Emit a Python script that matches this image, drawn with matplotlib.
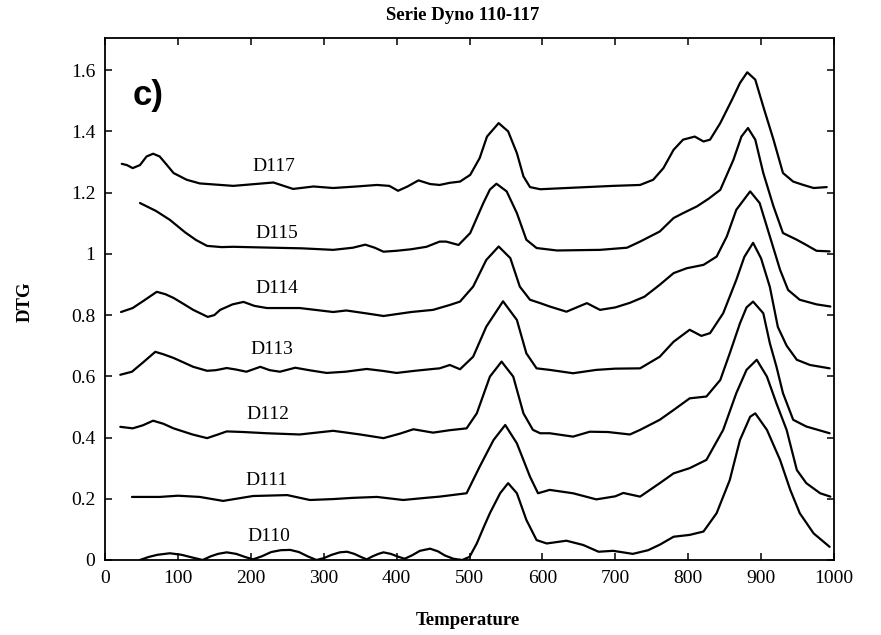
import matplotlib
matplotlib.use("Agg")
import matplotlib.pyplot as plt

# DTG curves (temperature, DTG)
t_d117 = [23, 30, 38, 48, 57, 66, 75, 85, 94, 112, 130, 176, 231, 258, 286, 313, 345, 373, 390, 402,
          415, 430, 446, 459, 473, 487, 501, 514, 524, 540, 553, 565, 574, 583, 597, 642, 697, 734, 752,
          766, 780, 793, 809, 821, 830, 844, 860, 871, 881, 892, 903, 917, 930, 944, 958, 972, 990]
y_d117 = [1.294, 1.29, 1.28, 1.29, 1.318, 1.327, 1.318, 1.29, 1.264, 1.242, 1.23, 1.222, 1.233, 1.212, 1.22,
          1.215, 1.22, 1.225, 1.222, 1.206, 1.22, 1.24, 1.228, 1.225, 1.232, 1.236, 1.258, 1.313, 1.383,
          1.427, 1.40, 1.329, 1.253, 1.218, 1.211, 1.216, 1.222, 1.225, 1.242, 1.28, 1.34, 1.373, 1.383,
          1.367, 1.373, 1.427, 1.503, 1.558, 1.593, 1.569, 1.481, 1.373, 1.264, 1.236, 1.225, 1.215, 1.218]

t_d115 = [48, 70, 89, 110, 125, 140, 160, 176, 231, 270, 313, 340, 357, 370, 382, 400, 420, 441, 459, 468,
          485, 501, 519, 528, 537, 551, 565, 578, 592, 620, 679, 716, 734, 761, 780, 793, 812, 828, 844,
          862, 873, 882, 892, 903, 917, 930, 949, 962, 976, 994]
y_d115 = [1.166, 1.14, 1.111, 1.07, 1.045, 1.026, 1.022, 1.023, 1.02, 1.018, 1.013, 1.02, 1.03, 1.02, 1.007,
          1.01, 1.015, 1.023, 1.04, 1.04, 1.029, 1.068, 1.166, 1.21, 1.229, 1.204, 1.133, 1.046, 1.019,
          1.011, 1.013, 1.02, 1.04, 1.073, 1.117, 1.133, 1.155, 1.18, 1.209, 1.307, 1.383, 1.411, 1.373,
          1.264, 1.155, 1.068, 1.046, 1.029, 1.010, 1.008]

t_d114 = [22, 38, 55, 71, 83, 94, 108, 121, 141, 150, 158, 175, 190, 205, 222, 267, 313, 331, 360, 382,
          420, 450, 473, 487, 505, 523, 540, 556, 569, 583, 597, 610, 633, 661, 679, 700, 720, 740, 761,
          780, 798, 821, 839, 853, 866, 885, 898, 912, 926, 937, 953, 976, 995]
y_d114 = [0.81, 0.823, 0.85, 0.876, 0.868, 0.856, 0.836, 0.817, 0.794, 0.80, 0.817, 0.835, 0.843, 0.83, 0.823,
          0.823, 0.81, 0.815, 0.805, 0.797, 0.81, 0.817, 0.833, 0.844, 0.893, 0.980, 1.024, 0.986, 0.893,
          0.850, 0.839, 0.828, 0.811, 0.839, 0.817, 0.825, 0.84, 0.86, 0.899, 0.937, 0.953, 0.964, 0.991,
          1.057, 1.144, 1.204, 1.166, 1.057, 0.948, 0.882, 0.85, 0.835, 0.828]

t_d113 = [21, 37, 52, 69, 80, 94, 108, 121, 140, 152, 167, 180, 194, 213, 226, 240, 261, 280, 304, 330,
          359, 380, 400, 425, 450, 459, 473, 487, 505, 523, 546, 565, 578, 592, 610, 642, 674, 700, 734,
          761, 780, 802, 818, 830, 848, 866, 877, 889, 900, 912, 923, 935, 949, 967, 994]
y_d113 = [0.605, 0.615, 0.645, 0.68, 0.672, 0.66, 0.645, 0.631, 0.618, 0.62, 0.627, 0.622, 0.615, 0.631, 0.62,
          0.615, 0.628, 0.62, 0.611, 0.615, 0.624, 0.618, 0.611, 0.618, 0.624, 0.626, 0.637, 0.623, 0.664,
          0.762, 0.845, 0.784, 0.675, 0.626, 0.621, 0.610, 0.621, 0.625, 0.626, 0.664, 0.713, 0.752, 0.732,
          0.741, 0.806, 0.915, 0.99, 1.036, 0.985, 0.892, 0.761, 0.70, 0.654, 0.637, 0.626]

t_d112 = [21, 38, 52, 66, 80, 94, 120, 140, 155, 167, 190, 222, 267, 313, 350, 382, 405, 423, 450, 473,
          496, 510, 528, 544, 560, 574, 587, 597, 610, 642, 665, 690, 720, 734, 761, 780, 802, 825, 844,
          857, 871, 880, 889, 903, 912, 921, 930, 944, 962, 994]
y_d112 = [0.435, 0.43, 0.44, 0.455, 0.445, 0.43, 0.41, 0.398, 0.41, 0.42, 0.418, 0.414, 0.41, 0.422, 0.41,
          0.398, 0.413, 0.427, 0.416, 0.424, 0.430, 0.479, 0.599, 0.648, 0.599, 0.479, 0.425, 0.414, 0.414,
          0.403, 0.419, 0.418, 0.41, 0.425, 0.458, 0.49, 0.528, 0.534, 0.588, 0.675, 0.773, 0.825, 0.844,
          0.806, 0.708, 0.632, 0.545, 0.458, 0.436, 0.414]

t_d111 = [37, 75, 100, 130, 162, 180, 203, 250, 281, 313, 340, 373, 409, 440, 459, 496, 514, 533, 549, 565,
          583, 594, 610, 642, 674, 700, 711, 734, 761, 780, 802, 825, 848, 866, 880, 894, 908, 921, 935,
          949, 962, 981, 995]
y_d111 = [0.206, 0.206, 0.21, 0.206, 0.193, 0.2, 0.209, 0.212, 0.196, 0.199, 0.203, 0.206, 0.196, 0.203, 0.207,
          0.218, 0.305, 0.392, 0.441, 0.381, 0.272, 0.218, 0.229, 0.218, 0.198, 0.208, 0.219, 0.207, 0.251,
          0.283, 0.300, 0.327, 0.425, 0.545, 0.621, 0.654, 0.599, 0.512, 0.425, 0.294, 0.251, 0.218, 0.207]

t_d110 = [48, 60, 72, 89, 105, 120, 134, 145, 155, 167, 180, 192, 203, 215, 228, 241, 254, 266, 278, 290,
          300, 311, 322, 332, 342, 351, 359, 367, 375, 382, 392, 402, 411, 421, 432, 446, 457, 466, 478, 490,
          500, 510, 520, 528, 542, 553, 565, 578, 592, 606, 633, 656, 677, 697, 724, 745, 761, 780, 802, 821,
          839, 857, 871, 885, 892, 908, 926, 940, 953, 972, 994]
y_d110 = [0.0, 0.01, 0.017, 0.022, 0.017, 0.008, 0.0, 0.012, 0.02, 0.025, 0.02, 0.01, 0.002, 0.012, 0.026,
          0.032, 0.033, 0.026, 0.012, 0.0, 0.006, 0.017, 0.025, 0.027, 0.02, 0.01, 0.002, 0.012, 0.02, 0.025,
          0.02, 0.011, 0.004, 0.015, 0.03, 0.037, 0.028, 0.015, 0.004, 0.0, 0.01, 0.054, 0.11, 0.153, 0.218,
          0.251, 0.218, 0.131, 0.065, 0.054, 0.063, 0.049, 0.027, 0.03, 0.02, 0.032, 0.05, 0.076, 0.082,
          0.093, 0.153, 0.261, 0.392, 0.468, 0.479, 0.425, 0.327, 0.229, 0.153, 0.087, 0.043]

series = [
    ("D117", t_d117, y_d117, (231, 1.285)),
    ("D115", t_d115, y_d115, (236, 1.068)),
    ("D114", t_d114, y_d114, (236, 0.888)),
    ("D113", t_d113, y_d113, (229, 0.686)),
    ("D112", t_d112, y_d112, (224, 0.474)),
    ("D111", t_d111, y_d111, (222, 0.261)),
    ("D110", t_d110, y_d110, (225, 0.078)),
]

x_ticks = list(range(0, 1001, 100))
y_ticks = [0, 0.2, 0.4, 0.6, 0.8, 1.0, 1.2, 1.4, 1.6]
y_tick_labels = ["0", "0.2", "0.4", "0.6", "0.8", "1", "1.2", "1.4", "1.6"]

plt.rcParams["font.family"] = ["Liberation Serif", "DejaVu Serif"]

fig = plt.figure(figsize=(8.81, 6.35), dpi=100)
ax = fig.add_axes([105 / 881, 1 - 560 / 635, 729 / 881, 522 / 635])

for name, temps, dtg, (lx, ly) in series:
    ax.plot(temps, dtg, color="black", linewidth=1.6, solid_joinstyle="round", solid_capstyle="round")
    ax.text(lx, ly, name, fontsize=14, ha="center", va="center")

ax.text(59, 1.516, "c)", fontsize=25, fontweight="bold", family="Liberation Sans",
        ha="center", va="center")

ax.set_xlim(0, 1000)
ax.set_ylim(0, 1.705)
ax.set_xticks(x_ticks)
ax.set_yticks(y_ticks)
ax.set_yticklabels(y_tick_labels)
ax.tick_params(direction="in", top=True, right=True, length=5, width=1.1,
               labelsize=14, pad=7)
for spine in ax.spines.values():
    spine.set_linewidth(1.3)

ax.set_title("Serie Dyno 110-117", fontsize=13.5, fontweight="bold", x=0.49, y=1.044,
             va="center", pad=0)
ax.set_xlabel("Temperature", fontsize=13.5, fontweight="bold", va="center")
ax.xaxis.set_label_coords(0.498, -0.115)
ax.set_ylabel("DTG", fontsize=13.5, fontweight="bold", va="center")
ax.yaxis.set_label_coords(-0.11, 0.494)

fig.savefig("out.png", dpi=100)
